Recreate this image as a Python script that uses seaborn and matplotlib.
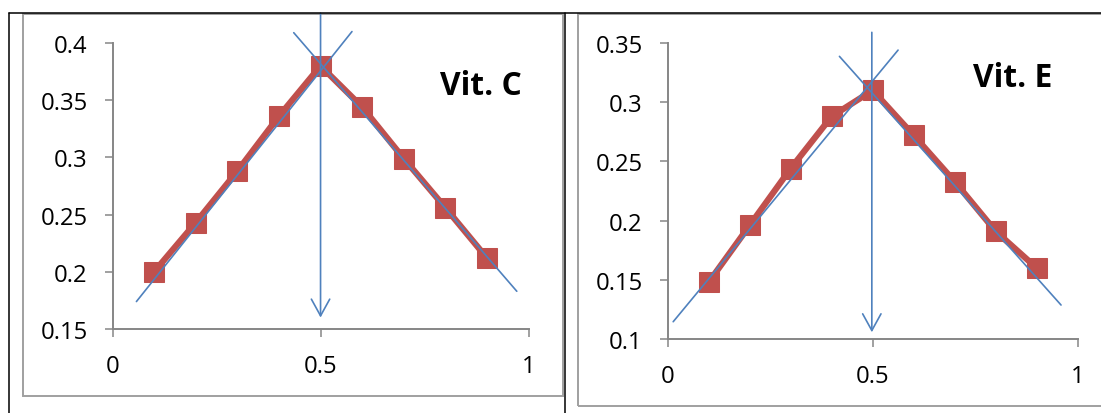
import matplotlib
matplotlib.use("Agg")
import matplotlib.pyplot as plt
from matplotlib.lines import Line2D
from matplotlib.patches import Rectangle
import seaborn as sns

# measured points
x_vals = [0.1, 0.2, 0.3, 0.4, 0.5, 0.6, 0.7, 0.8, 0.9]
vitc_y = [0.200, 0.243, 0.288, 0.336, 0.380, 0.344, 0.299, 0.256, 0.212]
vite_y = [0.148, 0.196, 0.244, 0.288, 0.310, 0.272, 0.233, 0.191, 0.160]

# tangent lines (end points)
vitc_rise_x = [0.0575, 0.5755]
vitc_rise_y = [0.174, 0.410]
vitc_fall_x = [0.4356, 0.9716]
vitc_fall_y = [0.409, 0.183]
vite_rise_x = [0.0134, 0.562]
vite_rise_y = [0.1146, 0.344]
vite_fall_x = [0.419, 0.9596]
vite_fall_y = [0.3387, 0.1287]

# vertical arrows (x, y start, y end)
vitc_arrow = [0.5, 0.426, 0.160]
vite_arrow = [0.498, 0.359, 0.1057]

x_ticks = [0, 0.5, 1]
x_labels = ["0", "0.5", "1"]
vitc_ticks = [0.15, 0.2, 0.25, 0.3, 0.35, 0.4]
vitc_labels = ["0.15", "0.2", "0.25", "0.3", "0.35", "0.4"]
vite_ticks = [0.1, 0.15, 0.2, 0.25, 0.3, 0.35]
vite_labels = ["0.1", "0.15", "0.2", "0.25", "0.3", "0.35"]

RED = "#C0504D"
BLUE = "#4F81BD"
AXIS = "#868686"

sns.set_theme(style="white")
plt.rcParams['font.family'] = ['Open Sans', 'DejaVu Sans']

fig = plt.figure(figsize=(11.01, 4.14), dpi=100)
W, H = 1101, 414

ax_c = fig.add_axes([112.5 / W, 1 - 330 / H, 416.1 / W, 286 / H])
ax_e = fig.add_axes([667.7 / W, 1 - 340 / H, 409.9 / W, 296 / H])


def draw_panel(ax, y, rise_x, rise_y, fall_x, fall_y, arrow, yticks, ylabels, name, tx, ty):
    sns.lineplot(x=x_vals, y=y, ax=ax, color=RED, linewidth=4.5, marker="s",
                 markersize=14.5, markeredgecolor=RED, zorder=2)
    sns.lineplot(x=rise_x, y=rise_y, ax=ax, color=BLUE, linewidth=1.2, zorder=3)
    sns.lineplot(x=fall_x, y=fall_y, ax=ax, color=BLUE, linewidth=1.2, zorder=3)
    ax.annotate("", xy=(arrow[0], arrow[2]), xytext=(arrow[0], arrow[1]),
                arrowprops=dict(arrowstyle="->,head_length=0.6,head_width=0.33",
                                color=BLUE, lw=1.2, mutation_scale=20,
                                shrinkA=0, shrinkB=0),
                annotation_clip=False, zorder=4)
    for line in ax.lines:
        line.set_clip_on(False)

    ax.set_xlim(0, 1)
    ax.set_ylim(yticks[0], yticks[-1])
    ax.set_xticks(x_ticks)
    ax.set_xticklabels(x_labels)
    ax.set_yticks(yticks)
    ax.set_yticklabels(ylabels)
    ax.tick_params(axis="both", direction="out", length=6, width=1.1, color=AXIS,
                   labelsize=17.2, labelcolor="black", pad=12,
                   bottom=True, left=True)
    for side in ["top", "right"]:
        ax.spines[side].set_visible(False)
    for side in ["left", "bottom"]:
        ax.spines[side].set_color(AXIS)
        ax.spines[side].set_linewidth(1.4)
    ax.set_facecolor("none")
    ax.text(tx, ty, name, transform=ax.transAxes, ha="center", va="center",
            fontsize=22.9, fontweight="bold", color="black")
    ax.set_xlabel("")
    ax.set_ylabel("")


draw_panel(ax_c, vitc_y, vitc_rise_x, vitc_rise_y, vitc_fall_x, vitc_fall_y,
           vitc_arrow, vitc_ticks, vitc_labels, "Vit. C", 0.886, 0.853)
draw_panel(ax_e, vite_y, vite_rise_x, vite_rise_y, vite_fall_x, vite_fall_y,
           vite_arrow, vite_ticks, vite_labels, "Vit. E", 0.842, 0.882)

# chart frames and table borders
fig.add_artist(Rectangle((23 / W, 1 - 397 / H), 540 / W, 382 / H, transform=fig.transFigure,
                         fill=False, edgecolor="#A0A0A0", linewidth=1.4, zorder=0))
fig.add_artist(Rectangle((578 / W, 1 - 407 / H), 540 / W, 392 / H, transform=fig.transFigure,
                         fill=False, edgecolor="#A0A0A0", linewidth=1.4, zorder=0))
top = 1 - 14 / H
fig.add_artist(Line2D([8.5 / W, 1], [top, top], transform=fig.transFigure, color="black", lw=1.1))
fig.add_artist(Line2D([8.5 / W, 8.5 / W], [0, top], transform=fig.transFigure, color="black", lw=1.1))
fig.add_artist(Line2D([565 / W, 565 / W], [0, top], transform=fig.transFigure, color="black", lw=1.1))

fig.savefig("out.png", dpi=100)
